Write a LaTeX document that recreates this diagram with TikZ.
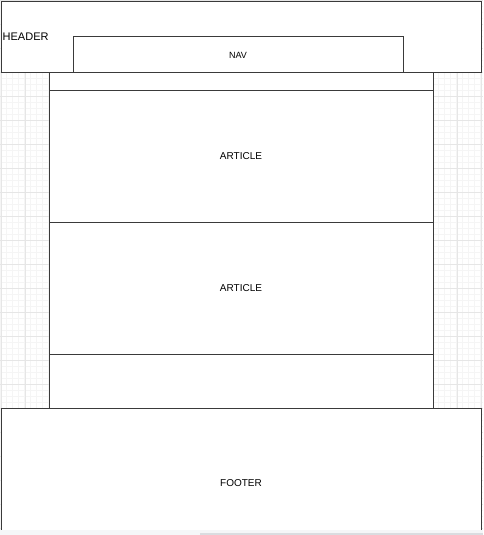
\documentclass[tikz,border=0pt]{standalone}
\usepackage{fontspec}
\setmainfont{Liberation Sans}
\definecolor{edge}{HTML}{3A3A3A}
\definecolor{gridminor}{HTML}{F5F5F5}
\definecolor{gridmajor}{HTML}{E6E6E6}
\definecolor{barbg}{HTML}{F5F6F8}
\definecolor{barthumb}{HTML}{DADCE0}
\begin{document}
\begin{tikzpicture}[x=1pt,y=-1pt,
  panel/.style={draw=edge, line width=1pt, fill=white, rectangle, inner sep=0pt, anchor=north west},
  caption/.style={font=\fontsize{10}{12}\selectfont, text=black, inner sep=0pt}]
\useasboundingbox (0,0) rectangle (483,535);
% canvas grid
\draw[gridminor, line width=0.6pt] (0,0) grid[step=6pt] (483,535);
\foreach \x in {1,25,...,481} \draw[gridmajor, line width=0.8pt] (\x,0) -- (\x,535);
\foreach \y in {0,24,...,528} \draw[gridmajor, line width=0.8pt] (0,\y) -- (483,\y);
% page blocks
\node[panel, minimum width=384pt, minimum height=336pt] (main) at (49,72) {};
\node[panel, minimum width=480pt, minimum height=71pt] (header) at (1,1) {};
\node[panel, minimum width=330pt, minimum height=36pt] (nav) at (73,36) {};
\node[panel, minimum width=384pt, minimum height=132pt] (article1) at (49,90) {};
\node[panel, minimum width=384pt, minimum height=132pt] (article2) at (49,222) {};
\node[panel, minimum width=480pt, minimum height=140pt] (footer) at (1,408) {};
% labels
\node[caption, font=\fontsize{11}{13}\selectfont, anchor=west] (headerlabel) at (2.5,37) {HEADER};
\node[caption, font=\fontsize{9}{11}\selectfont] (navlabel) at (238,55.5) {NAV};
\node[caption] (article1label) at (241,156.3) {ARTICLE};
\node[caption] (article2label) at (241,288.3) {ARTICLE};
\node[caption] (footerlabel) at (241,483.3) {FOOTER};
% horizontal scroll bar along the bottom edge
\fill[barbg] (0,530) rectangle (483,535);
\fill[barthumb] (200,533) rectangle (483,535);
\end{tikzpicture}
\end{document}
